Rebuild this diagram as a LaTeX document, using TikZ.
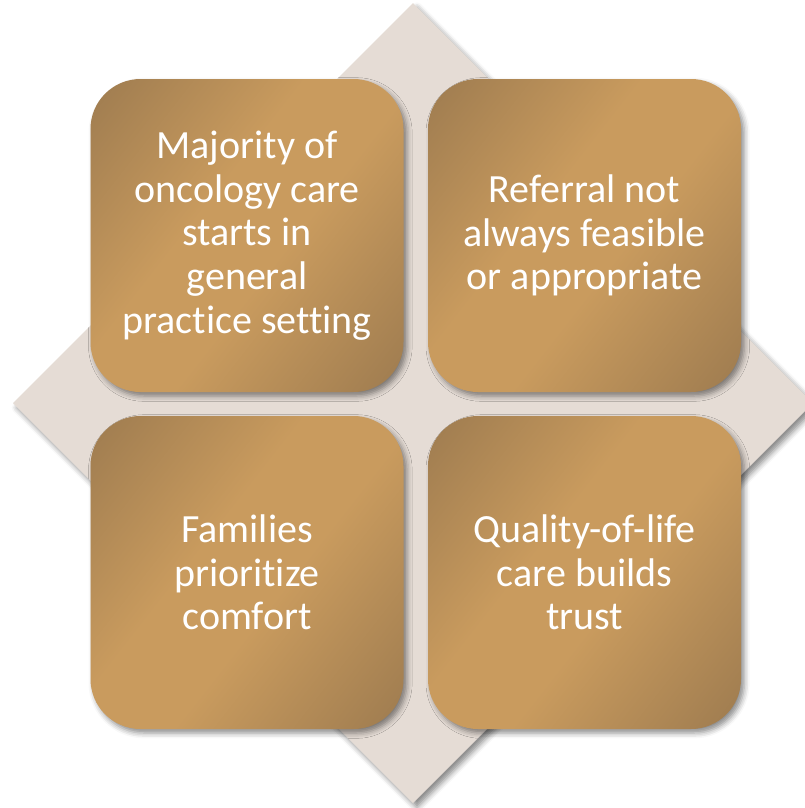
\documentclass[tikz,border=0pt]{standalone}
\usepackage{fontspec}
\setmainfont{Carlito}[Ligatures=NoCommon]
\usetikzlibrary{shadows.blur}
\definecolor{diamondgrey}{HTML}{E5DCD5}
\definecolor{golddark}{HTML}{9C7A4F}
\definecolor{goldlight}{HTML}{C99B5E}
\pgfdeclarehorizontalshading{goldshade}{100bp}{color(0bp)=(golddark); color(14bp)=(golddark);
  color(42bp)=(goldlight); color(56bp)=(goldlight); color(86bp)=(golddark); color(100bp)=(golddark)}
\tikzstyle{box}=[rectangle, rounded corners=37.5pt, minimum width=234.75pt, minimum height=234.75pt,
  shading=goldshade, shading angle=-38,
  text=white, align=center, font=\fontsize{30}{32.8}\selectfont,
  blur shadow={shadow xshift=2.5pt, shadow yshift=-3pt, shadow opacity=45, shadow blur radius=4pt}]

\begin{document}
\begin{tikzpicture}[x=0.75pt, y=-0.75pt]
\useasboundingbox (0,0) rectangle (805,808);
% Diamond
    \fill[diamondgrey, blur shadow={shadow xshift=3pt, shadow yshift=-3.5pt, shadow opacity=45, shadow blur radius=4pt}]
      (413,3) -- (813,403) -- (413,803) -- (13,403) -- cycle;
% Boxes
    \node[box] (majority) at (247,235.5) {Majority of\\oncology care\\starts in\\general\\practice setting};
    \node[box] (referral) at (584.5,235.5) {Referral not\\always feasible\\or appropriate};
    \node[box] (families) at (247,572.5) {Families\\prioritize\\comfort};
    \node[box] (quality) at (584.5,572.5) {Quality-of-life\\care builds\\trust};
\end{tikzpicture}
\end{document}
